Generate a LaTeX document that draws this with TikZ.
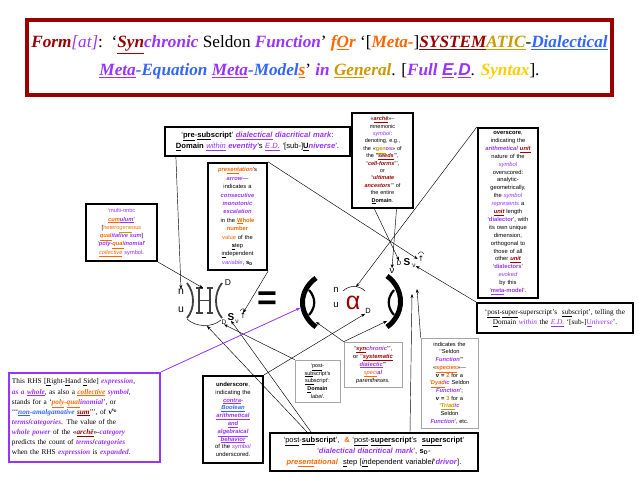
\documentclass[tikz,border=0pt]{standalone}
\usepackage{fontspec}
\setmainfont{Liberation Serif}
\setsansfont{Liberation Sans}
\newfontfamily\dvs{DejaVu Sans}
\usetikzlibrary{arrows.meta}
\definecolor{pur}{HTML}{9933FF}
\definecolor{dred}{HTML}{990000}
\definecolor{org}{HTML}{FF6600}
\definecolor{gld}{HTML}{CC9900}
\definecolor{blu}{HTML}{3366FF}
\definecolor{ylw}{HTML}{FFCC00}
\newcommand\cPu[1]{\textcolor{pur}{\textbf{\textit{#1}}}}
\newcommand\cDr[1]{\textcolor{dred}{\textbf{\textit{#1}}}}
\newcommand\cOg[1]{\textcolor{org}{\textbf{\textit{#1}}}}
\newcommand\cGd[1]{\textcolor{gld}{\textbf{\textit{#1}}}}
\newcommand\cBl[1]{\textcolor{blu}{\textbf{\textit{#1}}}}
\begin{document}
\begin{tikzpicture}[x=1pt,y=-1pt,
  bx/.style={draw=black, line width=2.2pt, fill=white, inner sep=1pt, align=center, font=\sffamily\fontsize{6}{8}\selectfont},
  gb/.style={draw=gray!70, line width=0.6pt, fill=white, inner sep=1pt, align=center, font=\sffamily\fontsize{5.8}{7.8}\selectfont},
  ar/.style={-{Stealth[length=4pt,width=3pt]}, line width=0.45pt},
  sym/.style={inner sep=0pt, font=\sffamily},
  glyph/.style={line width=1.8pt, draw=black!75}]
\fill[white] (0,0) rectangle (639,494);
\useasboundingbox (0,0) rectangle (639,494);

% ---------- title
\node[draw=dred, line width=4pt, fill=white, minimum width=585pt, minimum height=75pt, inner sep=0pt, align=center,
      font=\rmfamily\fontsize{17.2}{28}\selectfont] (title) at (319.5,57.5)
 {\cDr{Form}\textcolor{pur}{\textit{[at]}}:\ \ ‘\cDr{\underline{Syn}}\cPu{chronic} Seldon \cPu{Function}’ \cOg{f\underline{O}r} ‘[\cOg{Meta-}]\cDr{\underline{SYSTEM}}\cGd{\underline{ATIC}}-\cBl{\underline{Dialectical}}\\
  \cPu{\underline{Meta}}\cBl{-Equation} \cPu{\underline{Meta}}\cBl{-Model}\cOg{\underline{s}}’ \cPu{in} \cGd{\underline{Gen}eral}. [\cPu{Full} \textcolor{pur}{\textsf{\textbf{\textit{\underline{E}.\underline{D}}}}}. \textcolor{ylw}{\textbf{\textit{Syntax}}}].};

% ---------- boxes
\node[bx, text width=183pt, minimum height=29pt, font=\sffamily\fontsize{7.6}{11}\selectfont] (topb) at (257.5,141.5)
 {‘\textbf{\underline{pre}}-\textbf{\underline{sub}script}’ \cPu{\underline{dialectical} diacritical mark}:\\
  \textbf{\underline{D}omain} \textcolor{pur}{\textit{\underline{within}}} \cPu{eventity}’s \textcolor{pur}{\textit{\underline{E.D.}}} ‘[sub-]\textbf{\underline{U}}\cPu{niverse}’.};

\node[bx, text width=59pt, minimum height=95pt, font=\sffamily\fontsize{5.5}{7.4}\selectfont] (arche) at (382.5,160.5)
 {«\cDr{\underline{archē}}»–\\ mnemonic\\ \textcolor{pur}{\textit{symbol}}:\\ denoting, e.g.,\\
  the «\textcolor{gld}{\textbf{\underline{gen}}}\textcolor{pur}{\textbf{os}}» of\\ the ‘‘\cDr{\underline{seeds}}’’’,\\ ‘‘\cDr{cell-forms}’’’,\\ or\\
  ‘‘\cDr{ultimate}\\ \cDr{ancestors}’’’ of\\ the entire\\ \textbf{\underline{D}omain}.};

\node[bx, text width=58pt, minimum height=170pt, font=\sffamily\fontsize{5.8}{7.9}\selectfont] (over) at (508,213)
 {\textbf{overscore},\\ indicating the\\ \cPu{arithmetical} \cDr{\underline{unit}}\\ nature of the\\ \textcolor{pur}{\textit{symbol}}\\ overscored:\\
  analytic-\\ geometrically,\\ the \textcolor{pur}{\textit{symbol}}\\ \textcolor{pur}{\textit{represents}} a\\ \cDr{\underline{unit}} length\\
  ‘\textcolor{pur}{\textbf{dialector}}’, with\\ its own unique\\ dimension,\\ orthogonal to\\ those of all\\ other \cDr{\underline{unit}}\\
  ‘\textcolor{pur}{\textbf{dialectors}}’\\ \textcolor{pur}{\textit{evoked}}\\ by this\\ ‘\textcolor{pur}{\textbf{\underline{meta}-model}}’.};

\node[bx, text width=57pt, minimum height=107pt, font=\sffamily\fontsize{5.8}{8.4}\selectfont] (pres) at (237.5,216.5)
 {\cOg{pre\underline{sent}ation}’s\\ \cPu{arrow}—\\ indicates a\\ \cPu{consecutive}\\ \cPu{monotonic}\\ \cPu{escalation}\\
  in the \textcolor{org}{\textbf{\underline{W}hole}}\\ \textcolor{org}{\textbf{number}}\\ \textcolor{org}{value} of the\\ \textbf{\underline{s}}tep\\
  \underline{in}dependent\\ \textcolor{pur}{\textit{variable}}, \textbf{s\textsubscript{D}}};

\node[bx, text width=69pt, minimum height=57pt, font=\sffamily\fontsize{5.7}{8.3}\selectfont] (leftb) at (121.5,232.5)
 {\textcolor{pur}{‘multi-ontic}\\ \cOg{\underline{cum}}\cPu{\underline{ulum}}’\\ {[}\textcolor{org}{hetero}\textcolor{gld}{\underline{gene}}\textcolor{org}{ous}\\
  \cOg{\underline{qual}}\cPu{itative sum}]\\ ‘\cPu{poly-}\cOg{\underline{qual}}\cPu{inomial}’\\ \textcolor{org}{\textit{\underline{col}\underline{lective}}} \textcolor{pur}{symbol}.};

\node[bx, text width=154pt, minimum height=30pt, font=\rmfamily\fontsize{7.3}{10.5}\selectfont] (postsup) at (555,318)
 {‘\underline{post}-\underline{super}-superscript’s\ \ \underline{sub}script’, telling the\\
  \underline{D}omain \textcolor{pur}{\textit{within}} the \textcolor{pur}{\textit{\underline{E.D.}}} ‘[sub-]\textcolor{pur}{\underline{U}\textit{niverse}}’.};

\node[draw=pur, line width=2.4pt, fill=white, inner sep=3pt, text width=145pt, minimum height=89pt, align=left,
      font=\rmfamily\fontsize{7.3}{10.1}\selectfont] (purp) at (84.5,417.5)
 {This RHS [\underline{R}ight-\underline{H}and \underline{S}ide] \cPu{expression},\\
  \cPu{as a \underline{whole}}, as also a \cOg{\underline{collective}} \cPu{symbol},\\
  stands for a ‘\cOg{\underline{poly}-\underline{qual}}\cPu{inomial}’, or\\
  ‘‘‘\cBl{\underline{non}-amalgamative} \cDr{\underline{sum}}’’’, of \textbf{ν}$^{\mathbf{s}_{\mathbf{D}}}$\\
  \cPu{terms}\textbf{/}\cPu{categories}. The value of the\\
  \cPu{whole power} of the «\cDr{\underline{archē}}»-\cPu{category}\\
  predicts the count of \cPu{terms}\textbf{/}\cPu{categories}\\
  when the RHS \cPu{expression} is \cPu{expanded}.};

\node[bx, text width=58pt, minimum height=87pt, font=\sffamily\fontsize{5.9}{7.8}\selectfont] (under) at (233,419.5)
 {\textbf{underscore},\\ indicating the\\ \cPu{\underline{contra}-}\\ \cBl{\underline{Boolean}}\\ \cPu{\underline{arithmetical}}\\
  \cPu{\underline{and}}\\ \cPu{\underline{algebraical}}\\ \cPu{\underline{behavior}}\\ of the \textcolor{pur}{\textit{symbol}}\\ underscored.};

\node[gb, text width=43pt, minimum height=42pt, font=\sffamily\fontsize{5.5}{7.8}\selectfont] (postsub) at (317.5,381)
 {‘\underline{post}-\\ \underline{sub}script’s\\ \underline{sub}script’:\\ \textbf{\underline{D}omain}\\ \textit{label}.};

\node[gb, text width=56pt, minimum height=45pt, font=\sffamily\fontsize{5.8}{8}\selectfont] (sync) at (373,364.5)
 {‘‘\cDr{\underline{syn}}\cPu{chronic}’’’,\\ or ‘‘\cDr{\underline{systematic}}\\ \cPu{\underline{dialectic}}’’’\\
  \textcolor{org}{\textit{\underline{speci}}}\cPu{al}\\ \textit{parentheses}.};

\node[gb, text width=55pt, minimum height=90pt, font=\sffamily\fontsize{5.7}{7.7}\selectfont] (seldon) at (449.5,383)
 {indicates the\\ ‘‘Seldon\\ \cPu{Function}’’’\\ «\textcolor{org}{\textbf{\underline{species}}}»—\\ \textbf{ν = \textcolor{org}{2}} for a\\
  ‘\cOg{\underline{Dyad}}\cPu{ic} Seldon\\ \cPu{Function}’;\\ \textbf{ν = \textcolor{gld}{3}} for a\\ ‘\cGd{\underline{Triad}}\cPu{ic}\\
  Seldon\\ \cPu{Function}’, etc.};

\node[bx, text width=206pt, minimum height=38pt, font=\sffamily\fontsize{7.5}{11.3}\selectfont] (bottom) at (374,452)
 {‘\underline{post}-\textbf{\underline{sub}script}’,\ \ \textcolor{org}{\textbf{\&}} ‘\underline{post}-\textbf{\underline{super}script}’s\ \ \textbf{\underline{super}script}’\\
  ‘\cPu{dialectical diacritical mark}’, \textbf{s\textsubscript{D}}-\\
  \cOg{pre\underline{sent}ational}\ \ \underline{s}tep {[}\underline{\textit{in}}dependent variable\textbf{/}‘\cPu{drivor}].};

% ---------- formula, left side
\node[sym, font=\sffamily\fontsize{10.5}{10.5}\selectfont] (nL) at (181,292) {n};
\node[sym, font=\sffamily\fontsize{10.5}{10.5}\selectfont] (uL) at (181,310) {u};
\draw[glyph] (187,283) .. controls (195,293) and (195,309) .. (187,318);
\draw[glyph] (199,288) -- (199,313) (210,288) -- (210,313);
\draw[glyph, line width=1.5pt] (199,300.5) -- (210,300.5);
\draw[glyph, line width=1.1pt] (196,288) -- (202.5,288) (206.5,288) -- (213,288) (196,313) -- (202.5,313) (206.5,313) -- (213,313);
\coordinate (Htop) at (203,288);
\draw[glyph] (222,283) .. controls (214,293) and (214,309) .. (222,318);
\node[sym, font=\sffamily\fontsize{8.5}{8.5}\selectfont] (DsupL) at (228,283) {D};
\draw[line width=0.5pt] (187,319) .. controls (195,327) and (212,328) .. (221,320);
\coordinate (arcBot) at (207,326);
\node[sym, font=\sffamily\fontsize{6.5}{6.5}\selectfont] (DsubL) at (224,322) {D};
\node[sym, font=\sffamily\bfseries\fontsize{10}{10}\selectfont] (SsubL) at (231,317) {S};
\node[sym, font=\sffamily\fontsize{6.5}{6.5}\selectfont] (vsubL) at (237,322) {ν};
\node[sym, font=\dvs\fontsize{7.5}{7.5}\selectfont] (upL) at (243,316) {↑};
\draw[line width=0.4pt] (240,311) .. controls (242,308) and (244,308) .. (246,311);

\node[sym, font=\sffamily\bfseries\fontsize{34}{34}\selectfont] (eqs) at (267,301) {=};

% ---------- right side
\draw[line width=5pt] (316,278) .. controls (298,291) and (298,314) .. (316,327);
\draw[line width=2.2pt] (309,290) .. controls (316,298) and (316,307) .. (309,315);
\coordinate (bLw) at (300,308);
\coordinate (bLe) at (316,322);
\node[sym, font=\sffamily\fontsize{9.5}{9.5}\selectfont] (nR) at (336,290) {n};
\node[sym, font=\sffamily\fontsize{9.5}{9.5}\selectfont] (uR) at (336,305) {u};
\node[sym, font=\sffamily\fontsize{25}{25}\selectfont, text=dred] (alpha) at (353,303) {α};
\draw[line width=0.5pt] (343,291) .. controls (349,285) and (359,285) .. (365,291);
\coordinate (arcTop) at (356,287);
\node[sym, font=\sffamily\fontsize{7.5}{7.5}\selectfont] (DsubR) at (368,311) {D};
\draw[line width=5pt] (387,276) .. controls (405,289) and (405,314) .. (387,327);
\draw[line width=2.2pt] (394,290) .. controls (387,298) and (387,307) .. (394,315);
\coordinate (bRe) at (387,321);
\coordinate (bRt) at (417,289);
\coordinate (bRs) at (412,294);
\node[sym, font=\sffamily\fontsize{9.5}{9.5}\selectfont] (vR) at (392,271) {ν};
\node[sym, font=\sffamily\fontsize{6.5}{6.5}\selectfont] (DR) at (399,263) {D};
\node[sym, font=\sffamily\bfseries\fontsize{10}{10}\selectfont] (SR) at (407,262) {S};
\node[sym, font=\sffamily\fontsize{6.5}{6.5}\selectfont] (vsR) at (414,266) {ν};
\node[sym, font=\dvs\fontsize{7.5}{7.5}\selectfont] (upR) at (421,259) {↑};
\draw[line width=0.4pt] (418,254) .. controls (420,251) and (422,251) .. (424,254);

% ---------- connectors
\draw[ar] ([xshift=12pt]topb.south west) -- (nL.north);
\draw[ar] (leftb.south east) -- (Htop);
\draw[ar] (pres.south east) -- (upL.north);
\draw[ar] (pres.north east) -- (upR.west);
\draw[ar] ([xshift=-8pt]arche.south) -- (DR.north);
\draw[ar] ([xshift=14pt]arche.south) -- (vR.north);
\draw[ar] (over.north west) -- (arcTop);
\draw[ar] (postsup.north west) -- (vsR.east);
\draw[ar] (seldon.north west) -- (bRt);
\draw[ar] ([xshift=36pt]bottom.north) -- (bRs);
\draw[ar] ([xshift=38pt]bottom.north west) -- (arcBot);
\draw[ar] ([xshift=42pt]bottom.north west) -- (SsubL.south);
\draw[ar] (postsub.north west) -- (DsubL.south);
\draw[ar] (under.north east) -- (DsubR.south west);
\draw[ar] (sync.north west) -- (bLe);
\draw[ar] (sync.north west) -- (bRe);
\draw[ar, draw=pur, line width=0.8pt] (purp.north east) -- (bLw);
\end{tikzpicture}
\end{document}
